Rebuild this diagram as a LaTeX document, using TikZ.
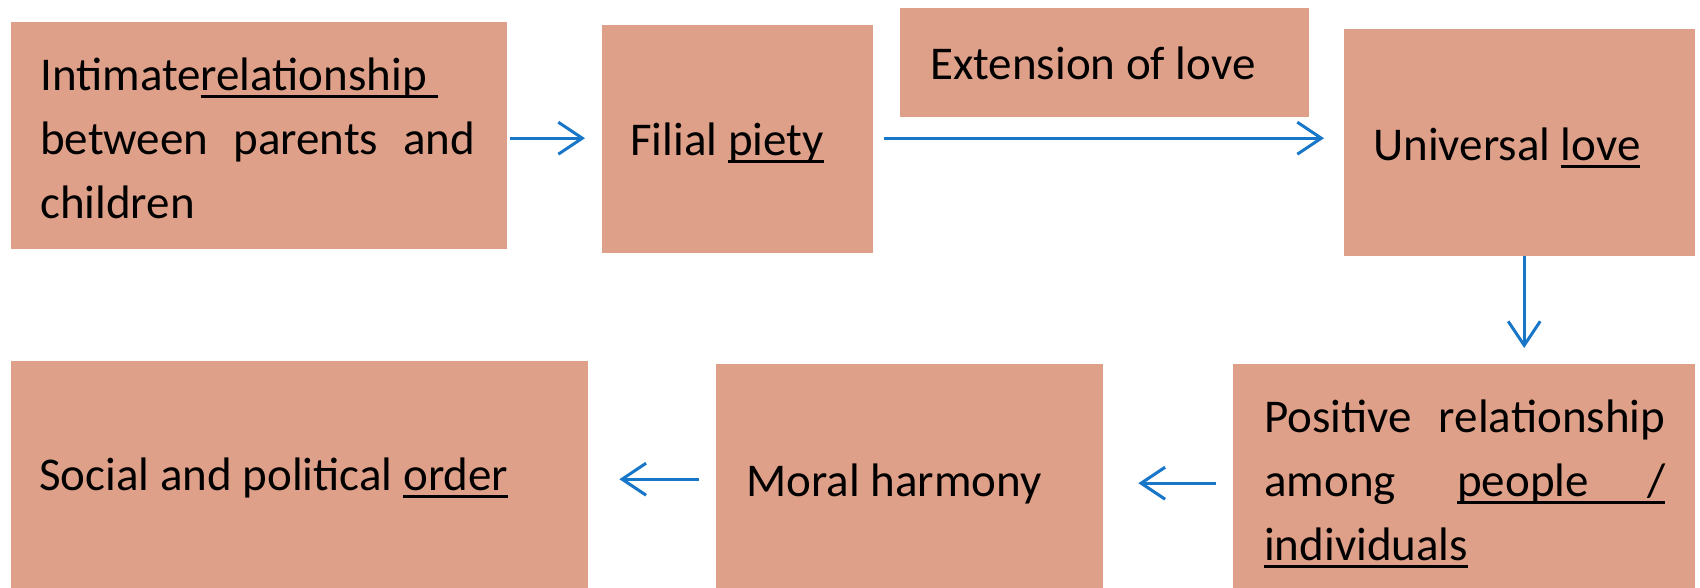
\documentclass[tikz,border=0pt]{standalone}
\usepackage{fontspec}
\setmainfont{Carlito}
\usetikzlibrary{arrows.meta}
\definecolor{boxfill}{RGB}{223,160,138}
\definecolor{arrowblue}{RGB}{24,118,200}
\newcommand\myul[1]{\leavevmode\setbox0=\hbox{#1}\rlap{\rule[-8pt]{\wd0}{2.8pt}}\box0}
\newcommand\natsp{\spaceskip=0pt\xspaceskip=0pt\baselineskip=64pt\relax}
\begin{document}
\begin{tikzpicture}[x=1pt,y=-1pt,
  box/.style={fill=boxfill, draw=none, inner ysep=0pt, align=left,
    font=\fontsize{47}{64}\selectfont, anchor=north west, text depth=0pt,
    execute at begin node=\natsp},
  conn/.style={draw=arrowblue, line width=3pt,
    -{Straight Barb[length=24pt,width=32pt]}}]
\useasboundingbox (0,0) rectangle (1700,588);
\node[box, minimum width=496pt, minimum height=227pt, inner xsep=29pt, text width=438pt, text height=0pt, text depth=91pt] (b1) at (11,22)
  {Intimate\myul{relationship\ }\\
   \makebox[435pt][s]{between\hfill parents\hfill and}\\
   children};
\node[box, minimum width=271pt, minimum height=228pt, inner xsep=28pt, text width=215pt, text height=32pt] (b2) at (602,25)
  {Filial \myul{piety}};
\node[box, minimum width=409pt, minimum height=109pt, inner xsep=30pt, text width=349pt, text height=33pt] (b3) at (900,8)
  {Extension of love};
\node[box, minimum width=351pt, minimum height=227pt, inner xsep=29pt, text width=293pt, text height=35pt] (b4) at (1344,29)
  {Universal \myul{love}};
\node[box, minimum width=577pt, minimum height=227pt, inner xsep=28pt, text width=521pt, text height=31pt] (b5) at (11,361)
  {Social and political \myul{order}};
\node[box, minimum width=387pt, minimum height=224pt, inner xsep=30pt, text width=327pt, text height=40pt] (b6) at (716,364)
  {Moral harmony};
\node[box, minimum width=462pt, minimum height=224pt, inner xsep=31pt, text width=400pt, text height=0pt, text depth=88pt] (b7) at (1233,364)
  {\makebox[401pt][s]{Positive\hfill relationship}\\
   \makebox[401pt][s]{among\hfill\myul{\makebox[208pt][s]{people\hfill/}}}\\
   \myul{individuals}};
\draw[conn] ([xshift=3pt,yshift=-2.5pt]b1.east) -- ([xshift=-17pt,yshift=-2.5pt]b1.east -| b2.west);
\draw[conn] ([xshift=11pt,yshift=1pt]b2.east) -- ([xshift=-20pt,yshift=1pt]b2.east -| b4.west);
\draw[conn] ([xshift=4.5pt]b4.south) -- ([xshift=4.5pt,yshift=16pt]b4.south |- b7.north);
\draw[conn] ([xshift=-17pt,yshift=-7pt]b7.west) -- ([xshift=35pt,yshift=-7pt]b7.west -| b6.east);
\draw[conn] ([xshift=-17pt,yshift=-3pt]b6.west) -- ([xshift=31pt,yshift=-3pt]b6.west -| b5.east);
\end{tikzpicture}
\end{document}
